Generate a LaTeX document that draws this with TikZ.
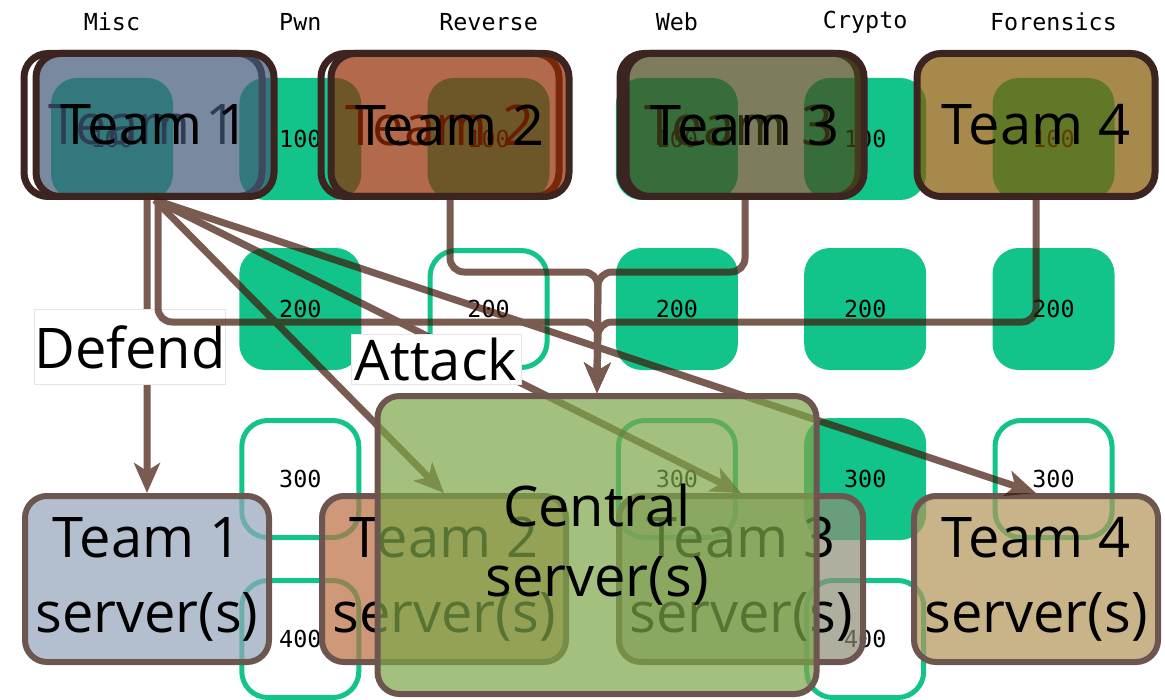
\documentclass[tikz,border=0pt]{standalone}
\usepackage{fontspec}
\setmainfont{Open Sans}
\newfontfamily\scorefont{DejaVu Sans Mono}
\usetikzlibrary{arrows.meta,positioning,calc}

\definecolor{flag}{HTML}{12C48A}
\definecolor{edge}{HTML}{3C2420}
\definecolor{srvedge}{HTML}{6E5650}
\definecolor{wirebrown}{HTML}{411608}
\definecolor{teamA}{HTML}{415877}
\definecolor{teamB}{HTML}{942A00}
\definecolor{teamC}{HTML}{47471A}
\definecolor{teamD}{HTML}{835800}
\definecolor{srvA}{HTML}{94A5BC}
\definecolor{srvB}{HTML}{BC6F41}
\definecolor{srvC}{HTML}{8E8E77}
\definecolor{srvD}{HTML}{B39458}
\definecolor{hubfill}{HTML}{7CA648}

\pgfdeclarelayer{board}
\pgfdeclarelayer{front}
\pgfsetlayers{board,main,front}

\begin{document}
\begin{tikzpicture}[x=0.5pt, y=-0.5pt,
  head/.style={font=\scorefont\fontsize{11.7}{12}\selectfont},
  tile/.style={rounded corners=13pt, minimum width=61pt, minimum height=61pt, inner sep=0pt, font=\scorefont\fontsize{11.7}{12}\selectfont},
  done/.style={tile, fill=flag},
  todo/.style={tile, draw=flag, line width=2.5pt, minimum width=58.5pt, minimum height=58.5pt},
  team/.style={draw=edge, line width=3.5pt, rounded corners=12pt, minimum width=119pt, minimum height=71.5pt, fill opacity=0.7, text opacity=1, font=\fontsize{28}{36}\selectfont},
  ghost/.style={team, fill=none},
  server/.style={draw=srvedge, line width=3pt, rounded corners=11pt, minimum width=122pt, minimum height=83pt, align=center, fill opacity=0.7, text opacity=1, font=\fontsize{28}{37.5}\selectfont},
  hub/.style={server, fill=hubfill, minimum width=219.5pt, minimum height=149pt, font=\fontsize{28}{35}\selectfont},
  link/.style={draw=wirebrown, line width=3.5pt, rounded corners=7pt},
  arrow/.style={link, -{Stealth[length=15pt, width=13pt, inset=4pt]}},
  tag/.style={fill=white, draw=black!10, line width=0.5pt, inner sep=0pt, font=\fontsize{28}{36}\selectfont}]

\useasboundingbox (0,0) rectangle (1165,700);

% scoreboard underneath
\begin{pgfonlayer}{board}
\fill[white] (0,0) rectangle (1165,700);
\foreach \name [count=\i] in {Misc,Pwn,Reverse,Web,Crypto,Forensics}
  \node[head] (cat\i) at ({112+188.3*(\i-1)},22) {\name};
\foreach \col/\yy/\pts/\kind in {1/139/100/done,2/139/100/done,3/139/100/done,4/139/100/done,5/139/100/done,6/139/100/done,
    2/309/200/done,3/309/200/todo,4/309/200/done,5/309/200/done,6/309/200/done,
    2/479/300/todo,4/479/300/todo,5/479/300/done,6/479/300/todo,
    2/639/400/todo,5/639/400/todo}
  \node[\kind] (p\col-\pts) at ({112+188.3*(\col-1)},\yy) {\pts};
\end{pgfonlayer}

% teams
\node[ghost] (t1g) at (143,125) {Team 1};
\node[team, fill=teamA] (t1) at (155,125) {Team 1};
\node[ghost] (t2g) at (440,125) {Team 2};
\node[team, fill=teamB] (t2) at (450,125) {Team 2};
\node[ghost] (t3g) at (739,125) {Team 3};
\node[team, fill=teamC] (t3) at (745,125) {Team 3};
\node[team, fill=teamD] (t4) at (1036,125) {Team 4};

% servers
\node[server, fill=srvA] (s1) at (147,579) {Team 1\\server(s)};
\node[server, fill=srvB] (s2) at (444,579) {Team 2\\server(s)};
\node[server, fill=srvC] (s3) at (741,579) {Team 3\\server(s)};
\node[server, fill=srvD] (s4) at (1036,579) {Team 4\\server(s)};
\begin{pgfonlayer}{front}
\node[hub] (cen) at (597,545) {Central\\server(s)};
\end{pgfonlayer}

\coordinate (upper) at (598,272);
\coordinate (lower) at (598,322);

% defend
\begin{scope}[transparency group, opacity=0.7]
\draw[arrow] (t1.south -| s1.north) -- (s1.north);
\end{scope}
\node[tag, minimum width=95pt, minimum height=37.5pt] (defend) at (130,347) {Defend};

% attack
\begin{scope}[transparency group, opacity=0.7]
\draw[arrow] ($(t1.south)+(3,0)$) |- (lower) -- (cen.north);
\draw[arrow] (t2.south) |- (upper) -- (cen.north);
\draw[arrow] (t3.south) |- (upper) -- (cen.north);
\draw[arrow] (t4.south) |- (lower) -- (cen.north);
\draw[arrow] (t1.south) -- (s2.north);
\draw[arrow] (t1.south) -- (s3.north);
\draw[arrow] (t1.south) -- (s4.north);
\end{scope}
\node[tag, minimum width=85pt, minimum height=25pt] (attack) at (436,359) {Attack};
\end{tikzpicture}
\end{document}
